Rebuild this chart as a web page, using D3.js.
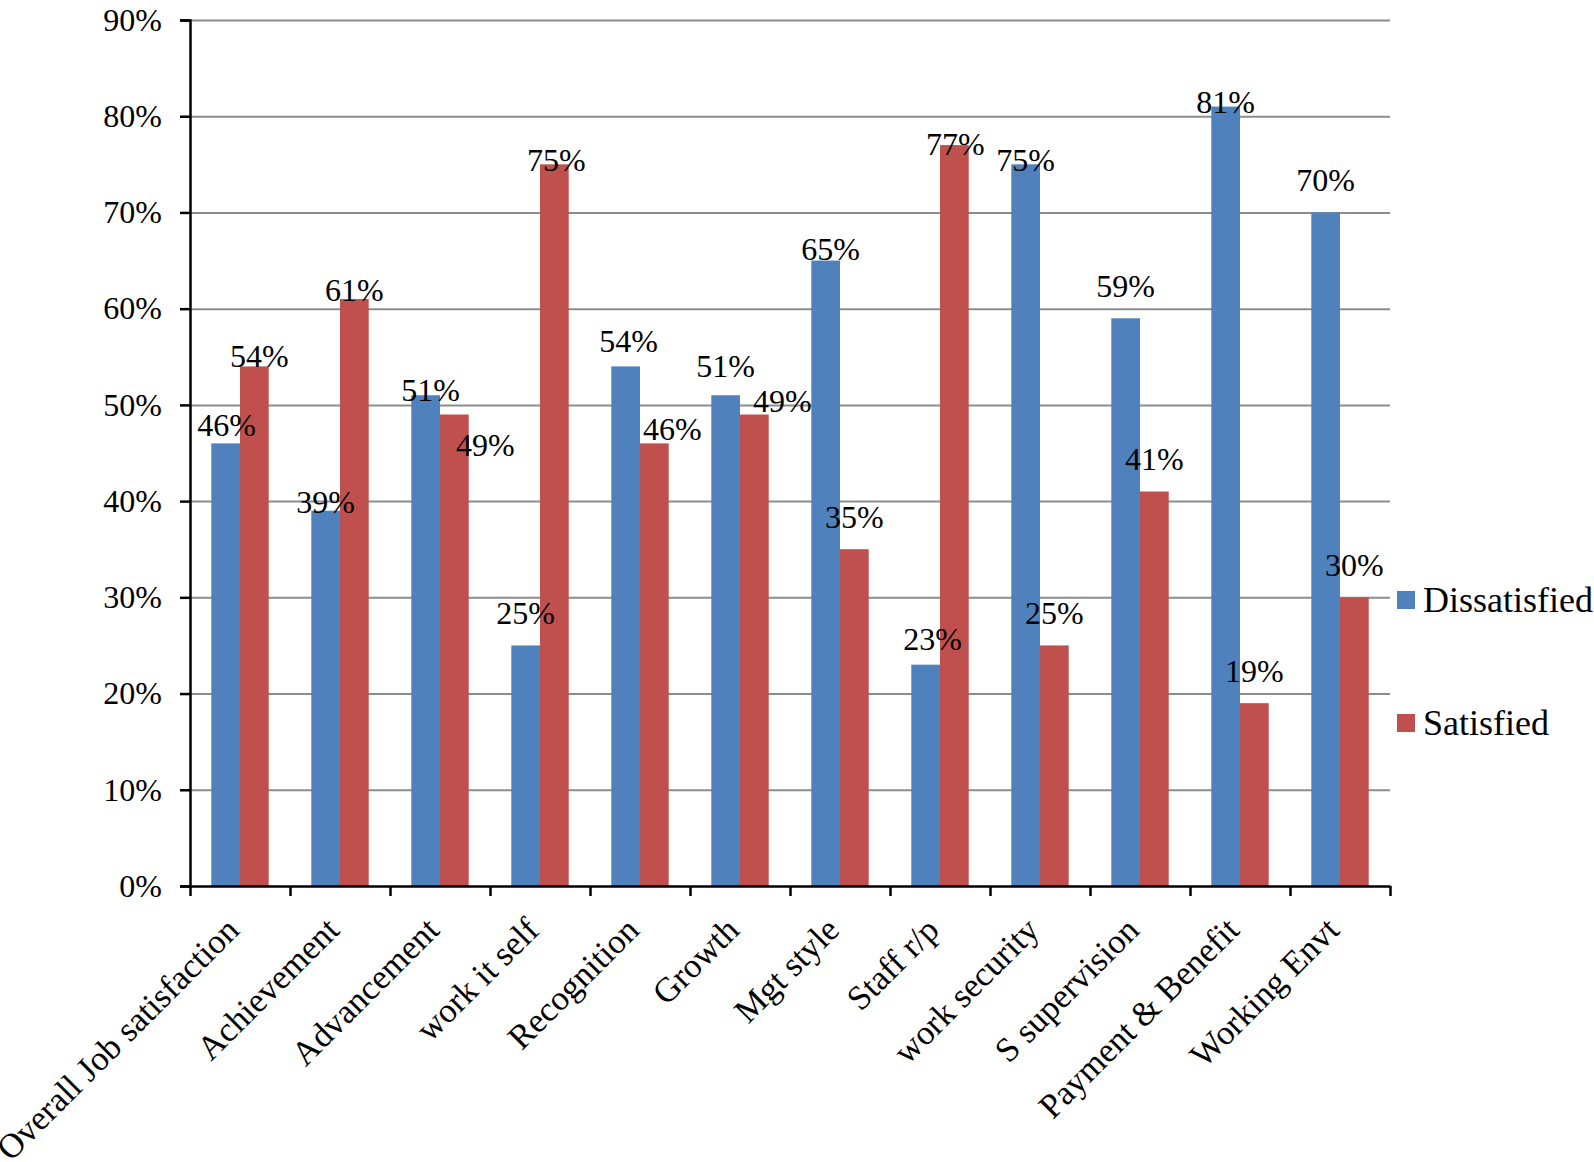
<!DOCTYPE html>
<html>
<head>
<meta charset="utf-8">
<script src="https://cdn.jsdelivr.net/npm/d3@7"></script>
<style>
  body { margin: 0; background: #fff; }
  svg text { font-family: "Liberation Serif", "Times New Roman", serif; fill: #000; }
</style>
</head>
<body>
<svg id="chart" width="1594" height="1162"></svg>
<script>
// data
var categories = ["Overall Job satisfaction", "Achievement", "Advancement", "work it self",
  "Recognition", "Growth", "Mgt style", "Staff r/p", "work security", "S supervision",
  "Payment & Benefit", "Working Envt"];
var series = ["Dissatisfied", "Satisfied"];
var dissatisfied = [0.46, 0.39, 0.51, 0.25, 0.54, 0.51, 0.65, 0.23, 0.75, 0.59, 0.81, 0.70];
var satisfied    = [0.54, 0.61, 0.49, 0.75, 0.46, 0.49, 0.35, 0.77, 0.25, 0.41, 0.19, 0.30];
var yTicks = [0, 0.1, 0.2, 0.3, 0.4, 0.5, 0.6, 0.7, 0.8, 0.9];

var colors = { "Dissatisfied": "#4f81bd", "Satisfied": "#c0504d" };

// hand-placed label nudges in the original (dx, dy px), keyed "cat|series"
var nudge = {
  "0|0": [1, 14], "0|1": [5, 22], "1|0": [0, 23], "1|1": [0, 23],
  "2|0": [5, 27], "2|1": [31, 62], "3|1": [2, 28], "4|0": [3, 7],
  "4|1": [18, 18], "5|0": [0, 3], "5|1": [28, 18], "6|0": [5, 20],
  "7|0": [7, 6], "7|1": [1, 31], "8|0": [0, 28], "10|0": [0, 27]
};

var svg = d3.select("#chart"),
    pLeft = 190, pRight = 1390, pTop = 20, pBottom = 886;

var x0 = d3.scaleBand().domain(categories).range([pLeft, pRight]);
var x1 = d3.scaleBand().domain(series).range([0, x0.bandwidth()]).paddingOuter(0.742);
var y = d3.scaleLinear().domain([0, 0.9]).range([pBottom, pTop]);
var fmt = d3.format(".0%");

// gridlines
var grid = svg.append("g")
    .attr("transform", "translate(" + pLeft + ",0)")
    .call(d3.axisLeft(y).tickValues(yTicks.slice(1)).tickSize(-(pRight - pLeft)).tickFormat(""));
grid.select(".domain").remove();
grid.selectAll("line").attr("stroke", "#8c8c8c").attr("stroke-width", 2);

// bars
var rows = categories.map(function(c, i) {
  return { cat: c, i: i, vals: [dissatisfied[i], satisfied[i]] };
});
var groups = svg.append("g").selectAll("g").data(rows).enter().append("g")
    .attr("transform", function(d) { return "translate(" + x0(d.cat) + ",0)"; });
groups.selectAll("rect")
    .data(function(d) { return d.vals.map(function(v, j) { return { s: series[j], v: v }; }); })
    .enter().append("rect")
    .attr("x", function(d) { return x1(d.s); })
    .attr("width", x1.bandwidth())
    .attr("y", function(d) { return y(d.v); })
    .attr("height", function(d) { return pBottom - y(d.v); })
    .attr("fill", function(d) { return colors[d.s]; });

// y axis
var yAxis = svg.append("g")
    .attr("transform", "translate(" + pLeft + ",0)")
    .call(d3.axisLeft(y).tickValues(yTicks).tickFormat(fmt).tickSize(10).tickPadding(18));
yAxis.selectAll("path, line").attr("stroke", "#000").attr("stroke-width", 2.5);
yAxis.selectAll("text").style("font-size", "32px").attr("font-family", null);

// x axis: ticks between categories
var xIdx = d3.scaleLinear().domain([0, categories.length]).range([pLeft, pRight]);
var xAxis = svg.append("g")
    .attr("transform", "translate(0," + pBottom + ")")
    .call(d3.axisBottom(xIdx).ticks(categories.length).tickFormat("").tickSize(10).tickSizeOuter(0));
xAxis.selectAll("path, line").attr("stroke", "#000").attr("stroke-width", 2.5);

// category labels
svg.append("g").selectAll("text").data(categories).enter().append("text")
    .attr("transform", function(d) {
      return "translate(" + (x0(d) + x0.bandwidth() / 2 + 1) + "," + (pBottom + 46) + ") rotate(-45)";
    })
    .attr("text-anchor", "end")
    .style("font-size", "34.5px")
    .text(function(d) { return d; });

// value labels
groups.each(function(d) {
  var g = d3.select(this);
  d.vals.forEach(function(v, j) {
    var n = nudge[d.i + "|" + j] || [0, 0];
    g.append("text")
      .attr("x", x1(series[j]) + x1.bandwidth() / 2 + n[0])
      .attr("y", y(v) - 21 + n[1])
      .attr("text-anchor", "middle")
      .style("font-size", "32px")
      .text(fmt(v));
  });
});

// legend
var legendY = [600, 723];
var legend = svg.append("g").selectAll("g").data(series).enter().append("g")
    .attr("transform", function(d, i) { return "translate(1397," + legendY[i] + ")"; });
legend.append("rect")
    .attr("x", 0).attr("y", -9).attr("width", 18).attr("height", 18)
    .attr("fill", function(d) { return colors[d]; });
legend.append("text")
    .attr("x", 26).attr("y", 12)
    .style("font-size", "36px")
    .text(function(d) { return d; });
</script>
</body>
</html>
